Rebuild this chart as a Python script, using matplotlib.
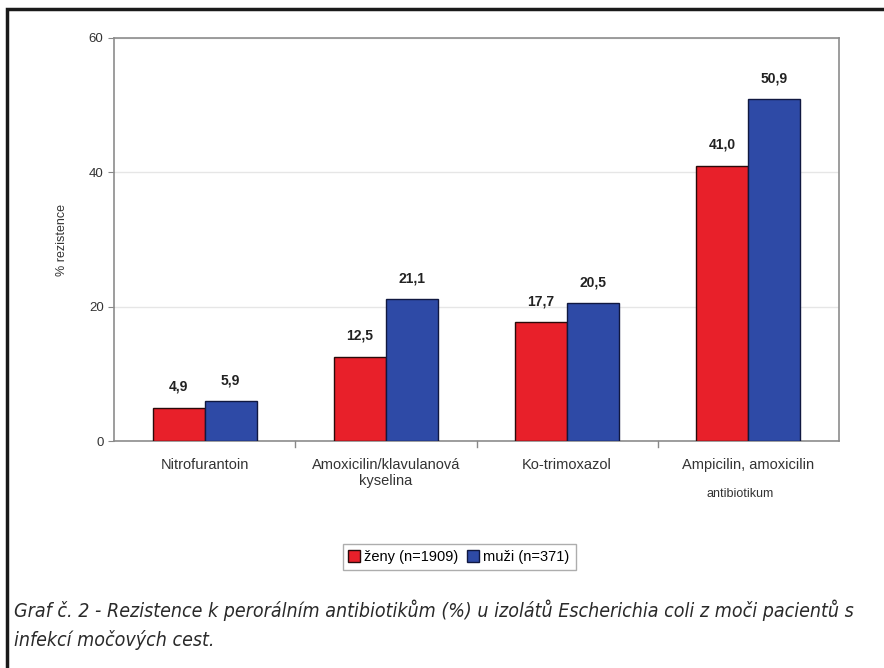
import numpy as np
import matplotlib.pyplot as plt
from matplotlib.patches import Rectangle

categories = ["Nitrofurantoin", "Amoxicilin/klavulanová\nkyselina", "Ko-trimoxazol", "Ampicilin, amoxicilin"]
zeny = [4.9, 12.5, 17.7, 41.0]
muzi = [5.9, 21.1, 20.5, 50.9]
yticks = [0, 20, 40, 60]

plt.rcParams['font.family'] = ['Liberation Sans', 'DejaVu Sans']

fig = plt.figure(figsize=(8.84, 6.68), dpi=100)
fig.patch.set_facecolor('white')

# outer frame (only top and left sides show)
fig.add_artist(Rectangle((7 / 884, -0.1), 1.2, (668 - 9) / 668 + 0.1, transform=fig.transFigure,
                         fill=False, edgecolor='#1a1a1a', linewidth=2.5))

ax = fig.add_axes([114 / 884, (668 - 441) / 668, (839 - 114) / 884, (441 - 38) / 668])
x = np.arange(len(categories))
w = 0.287
b1 = ax.bar(x - w / 2, zeny, w, color='#e8202a', edgecolor='#2a0a0a', linewidth=1.0, label='ženy (n=1909)', zorder=3)
b2 = ax.bar(x + w / 2, muzi, w, color='#2e4aa6', edgecolor='#101840', linewidth=1.0, label='muži (n=371)', zorder=3)

for bars, vals in ((b1, zeny), (b2, muzi)):
    for r, v in zip(bars, vals):
        ax.text(r.get_x() + r.get_width() / 2, v + 2.1, f"{v:.1f}".replace('.', ','),
                ha='center', va='bottom', fontsize=10, fontweight='bold', color='#222222')

ax.set_xlim(-0.5, len(categories) - 0.5)
ax.set_ylim(0, 60)
ax.set_yticks(yticks)
ax.tick_params(axis='y', labelsize=9.5, colors='#333333', length=4, color='#888888')
ax.set_xticks(x)
ax.set_xticklabels(categories, fontsize=10.5, color='#333333')
ax.tick_params(axis='x', length=0, pad=12)
for b in np.arange(0.5, len(categories) - 0.5, 1.0):
    ax.plot([b, b], [0, -0.9], color='#888888', lw=1, clip_on=False)
ax.grid(axis='y', color='#e6e6e6', lw=1, zorder=0)
for s in ax.spines.values():
    s.set_color('#8c8c8c')
    s.set_linewidth(1.2)

fig.text(62 / 884, 1 - 240 / 668, "% rezistence", rotation=90, ha='center', va='center', fontsize=9, color='#333333')
fig.text(740 / 884, 1 - 494 / 668, "antibiotikum", ha='center', va='center', fontsize=9, color='#333333')

leg = fig.legend(handles=[b1, b2], loc='center', bbox_to_anchor=(459 / 884, 1 - 557 / 668), ncol=2,
                 fontsize=10.5, frameon=True, fancybox=False, edgecolor='#999999',
                 handlelength=0.8, handleheight=0.8, handletextpad=0.3, columnspacing=0.6, borderpad=0.4)
leg.get_frame().set_linewidth(1.0)

cap = dict(ha='left', va='center', fontsize=14, style='italic', color='#2a2a2a',
           family=['DejaVu Sans'], stretch='condensed')
fig.text(14 / 884, 1 - 610 / 668,
         "Graf č. 2 - Rezistence k perorálním antibiotikům (%) u izolátů Escherichia coli z moči pacientů s", **cap)
fig.text(14 / 884, 1 - 640 / 668, "infekcí močových cest.", **cap)

fig.savefig('out.png', dpi=100)
